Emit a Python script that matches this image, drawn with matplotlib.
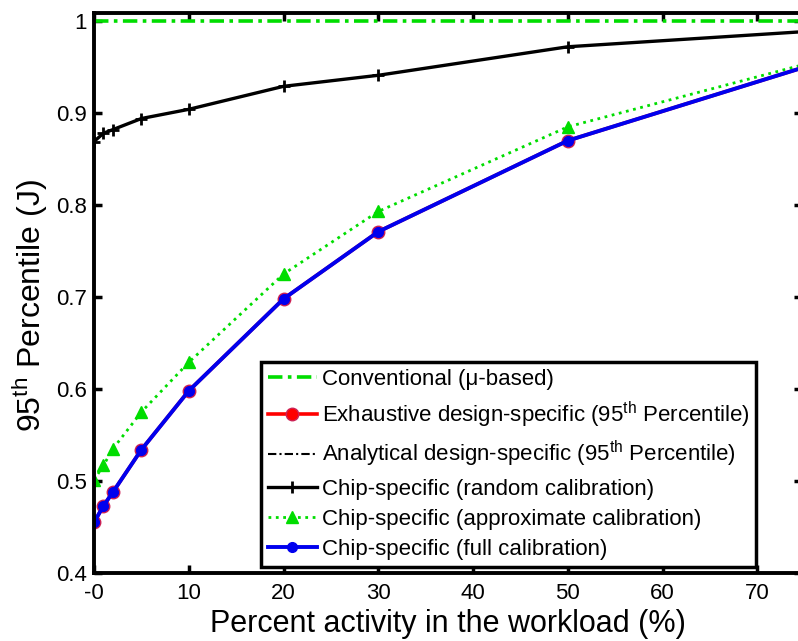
import matplotlib
matplotlib.use("Agg")
import matplotlib.pyplot as plt

plt.rcParams['font.family'] = ['Liberation Sans', 'DejaVu Sans']
plt.rcParams['mathtext.fontset'] = 'custom'
plt.rcParams['mathtext.rm'] = 'Liberation Sans'

# data
x = [0, 1, 2, 5, 10, 20, 30, 50, 75]
conventional = [1.0] * len(x)
exhaustive = [0.455, 0.473, 0.488, 0.534, 0.598, 0.698, 0.771, 0.870, 0.950]
analytical = [0.455, 0.473, 0.488, 0.534, 0.598, 0.698, 0.771, 0.870, 0.950]
random_cal = [0.869, 0.878, 0.882, 0.894, 0.904, 0.929, 0.941, 0.972, 0.9885]
approx_cal = [0.501, 0.517, 0.535, 0.575, 0.629, 0.725, 0.793, 0.885, 0.953]
full_cal = [0.455, 0.473, 0.488, 0.534, 0.598, 0.698, 0.771, 0.870, 0.950]

xticks = [0, 10, 20, 30, 40, 50, 60, 70]
xticklabels = ['-0', '10', '20', '30', '40', '50', '60', '70']
yticks = [0.4, 0.5, 0.6, 0.7, 0.8, 0.9, 1.0]
yticklabels = ['0.4', '0.5', '0.6', '0.7', '0.8', '0.9', '1']

labels = ['Conventional (μ-based)',
          'Exhaustive design-specific (95$^{\\mathrm{th}}$ Percentile)',
          'Analytical design-specific (95$^{\\mathrm{th}}$ Percentile)',
          'Chip-specific (random calibration)',
          'Chip-specific (approximate calibration)',
          'Chip-specific (full calibration)']

fig = plt.figure(figsize=(7.98, 6.41), dpi=100)
ax = fig.add_axes([94/798, 1-573/641, 708/798, 560/641])

green = '#00dd00'
h1, = ax.plot(x, conventional, color=green, ls=(0, (4, 1.5, 1, 1.5)), lw=2.6)
h2, = ax.plot(x, exhaustive, color='red', ls='-', lw=2.6, marker='o', ms=9,
              mfc='red', mec='#cc2255')
h3, = ax.plot(x, analytical, color='black', ls=(0, (4, 1.5, 1, 1.5)), lw=1.5)
h4, = ax.plot(x, random_cal, color='black', ls='-', lw=2.4, marker='+', ms=9,
              mew=2)
h5, = ax.plot(x, approx_cal, color=green, ls=':', lw=2.0, marker='^', ms=8,
              mfc=green, mec=green)
h6, = ax.plot(x, full_cal, color='#0000ee', ls='-', lw=2.8, marker='o', ms=7,
              mfc='#0000ee', mec='#0000ee')

ax.set_xlim(0, 74.7)
ax.set_ylim(0.4, 1.0087)
ax.set_xticks(xticks)
ax.set_xticklabels(xticklabels)
ax.set_yticks(yticks)
ax.set_yticklabels(yticklabels)
ax.tick_params(direction='in', length=6, width=2.5, top=True, right=True,
               labelsize=16)
ax.tick_params(axis='x', pad=7)
ax.tick_params(axis='y', pad=5)
for s in ax.spines.values():
    s.set_linewidth(2.8)

ax.set_xlabel('Percent activity in the workload (%)', fontsize=22, labelpad=4)
ax.set_ylabel('95$^{\\mathrm{th}}$ Percentile (J)', fontsize=23)
ax.yaxis.set_label_coords(-0.062, 0.477)

leg = ax.legend([h1, h2, h3, h4, h5, h6], labels, loc='lower left',
                bbox_to_anchor=(0.236, 0.011), fontsize=16, frameon=True,
                fancybox=False, edgecolor='black', framealpha=1,
                handlelength=2.2, handletextpad=0.25, labelspacing=0.42,
                borderpad=0.3, borderaxespad=0)
leg.get_frame().set_linewidth(2.5)

fig.savefig('out.png', dpi=100)
